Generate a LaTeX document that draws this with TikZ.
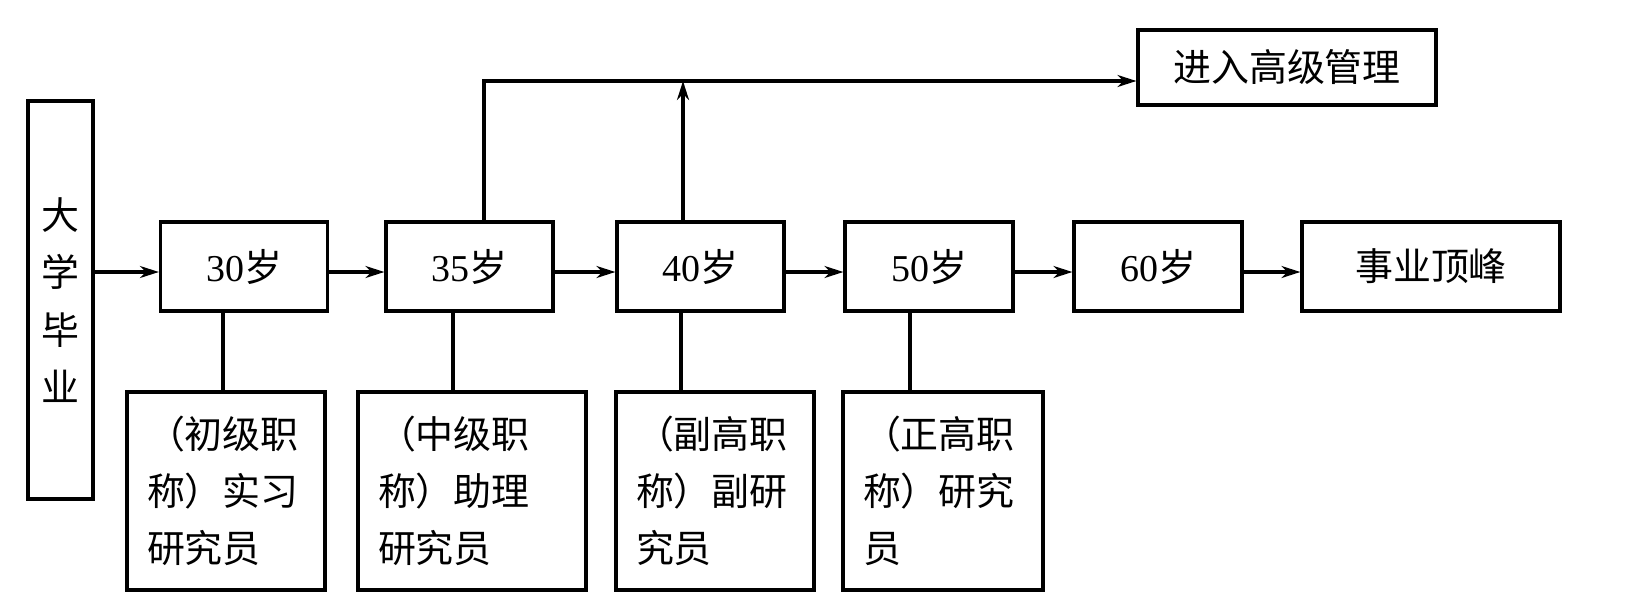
\documentclass[tikz,border=0pt]{standalone}
\usepackage{fontspec}
\setmainfont{Liberation Serif}
\newfontfamily\cjk{Noto Sans CJK SC}
\usetikzlibrary{arrows.meta}

\begin{document}
\begin{tikzpicture}[line width=0.9pt,
    every node/.style={draw,inner sep=0pt,font=\fontsize{10.8}{16.3}\selectfont\cjk},
    age/.style={minimum width=1.67cm,minimum height=0.89cm},
    rank/.style={minimum height=1.98cm,inner xsep=0.2cm,align=left},
    arr/.style={-{Stealth[length=0.19cm,width=0.12cm]}}]
    \useasboundingbox (0,0) rectangle (16.25,6.14);
    \coordinate (row) at (0,3.42);
    \coordinate (bus) at (0,5.33);

    \node[minimum width=0.65cm,minimum height=3.98cm,align=center] (grad) at (0.605,3.14) {大\\学\\毕\\业};
    \node[age] (a30) at (2.44,3.475) {\textrm{30}岁};
    \node[age] (a35) at (4.695,3.475) {\textrm{35}岁};
    \node[age] (a40) at (7.005,3.475) {\textrm{40}岁};
    \node[age,minimum width=1.68cm] (a50) at (9.29,3.475) {\textrm{50}岁};
    \node[age,minimum width=1.68cm] (a60) at (11.58,3.475) {\textrm{60}岁};
    \node[age,minimum width=2.58cm] (peak) at (14.31,3.475) {事业顶峰};
    \node[minimum width=2.98cm,minimum height=0.75cm] (mgmt) at (12.87,5.465) {进入高级管理};

    \node[rank,text width=1.58cm] (r30) at (2.26,1.23) {（初级职\\称）实习\\研究员};
    \node[rank,text width=1.88cm] (r35) at (4.72,1.23) {（中级职\\称）助理\\研究员};
    \node[rank,text width=1.58cm] (r40) at (7.15,1.23) {（副高职\\称）副研\\究员};
    \node[rank,text width=1.60cm] (r50) at (9.43,1.23) {（正高职\\称）研究\\员};

    \draw[arr] (grad.east |- row) -- (a30.west |- row);
    \draw[arr] (a30.east |- row) -- (a35.west |- row);
    \draw[arr] (a35.east |- row) -- (a40.west |- row);
    \draw[arr] (a40.east |- row) -- (a50.west |- row);
    \draw[arr] (a50.east |- row) -- (a60.west |- row);
    \draw[arr] (a60.east |- row) -- (peak.west |- row);

    \draw[arr] ([xshift=.145cm]a35.north) |- (mgmt.west |- bus);
    \draw[arr] ([xshift=-.175cm]a40.north) -- ([xshift=-.175cm]a40.north |- bus);

    \draw ([xshift=-.21cm]a30.south) -- ([xshift=-.21cm]a30.south |- r30.north);
    \draw ([xshift=-.165cm]a35.south) -- ([xshift=-.165cm]a35.south |- r35.north);
    \draw ([xshift=-.195cm]a40.south) -- ([xshift=-.195cm]a40.south |- r40.north);
    \draw ([xshift=-.19cm]a50.south) -- ([xshift=-.19cm]a50.south |- r50.north);
\end{tikzpicture}
\end{document}
